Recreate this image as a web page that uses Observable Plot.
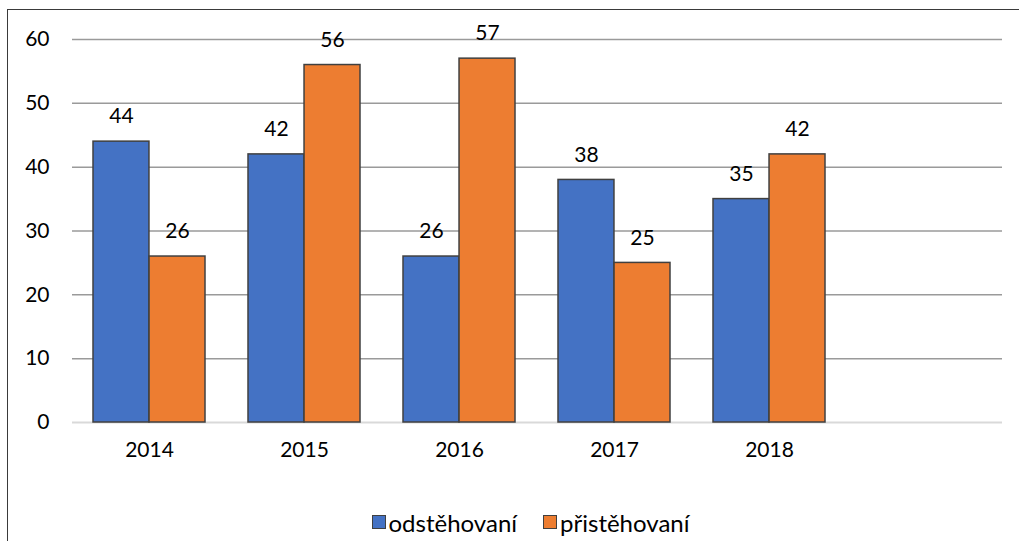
<!DOCTYPE html>
<html>
<head>
<meta charset="utf-8">
<script src="https://cdn.jsdelivr.net/npm/d3@7"></script>
<script src="https://cdn.jsdelivr.net/npm/@observablehq/plot@0.6"></script>
<style>
  html, body { margin: 0; padding: 0; background: #fff; }
  #wrap { position: relative; width: 1019px; height: 541px; overflow: hidden; font-family: Lato, "Open Sans", sans-serif; }
  #border { position: absolute; left: 7px; top: 9px; width: 1100px; height: 600px; border-left: 1.5px solid #3a3a3a; border-top: 1.5px solid #3a3a3a; }
  #chart { position: absolute; left: 0; top: 0; }
  #legend { position: absolute; left: 0; top: 504px; width: 1019px; height: 36px; display: flex; justify-content: center; align-items: center; font-size: 24px; color: #000; padding-left: 42px; box-sizing: border-box; }
  .item { display: flex; align-items: center; margin: 0 13px; }
  .sw { width: 12px; height: 12px; border: 1.5px solid #404040; margin-right: 3px; }
</style>
</head>
<body>
<div id="wrap">
  <div id="border"></div>
  <div id="chart"></div>
  <div id="legend"></div>
</div>
<script>
// Data
const years = ["2014", "2015", "2016", "2017", "2018", ""];
const seriesNames = ["odstěhovaní", "přistěhovaní"];
const odstehovani = [44, 42, 26, 38, 35];
const pristehovani = [26, 56, 57, 25, 42];
const yTicks = [0, 10, 20, 30, 40, 50, 60];
const colors = ["#4472C4", "#ED7D31"];

const rowsA = odstehovani.map((v, i) => ({year: years[i], value: v}));
const rowsB = pristehovani.map((v, i) => ({year: years[i], value: v}));

const W = 1019, H = 505;
const mL = 72, mR = 17, mT = 39, mB = 83;
const padInner = 0.277;
const step = (W - mL - mR) / years.length;
const half = step * (1 - padInner) / 2;

const chart = Plot.plot({
  width: W,
  height: H,
  marginLeft: mL,
  marginRight: mR,
  marginTop: mT,
  marginBottom: mB,
  style: {fontFamily: "Lato, 'Open Sans', sans-serif", fontSize: "21px", color: "#000", background: "transparent"},
  x: {domain: years, paddingInner: padInner, paddingOuter: padInner / 2, label: null, tickSize: 0, tickPadding: 20},
  y: {domain: [0, 60], ticks: yTicks, label: null, tickSize: 0, tickPadding: 23},
  marks: [
    Plot.ruleY(yTicks.filter(d => d > 0), {stroke: "#9a9a9a", strokeWidth: 1.5}),
    Plot.ruleY([0], {stroke: "#d9d9d9", strokeWidth: 2}),
    Plot.barY(rowsA, {x: "year", y: "value", fill: colors[0], stroke: "#404040", strokeWidth: 1.5, insetRight: half}),
    Plot.barY(rowsB, {x: "year", y: "value", fill: colors[1], stroke: "#404040", strokeWidth: 1.5, insetLeft: half}),
    Plot.text(rowsA, {x: "year", y: "value", text: d => String(d.value), dx: -half / 2, dy: -25, fill: "#000", fontSize: 21}),
    Plot.text(rowsB, {x: "year", y: "value", text: d => String(d.value), dx: half / 2, dy: -25, fill: "#000", fontSize: 21})
  ]
});
document.getElementById("chart").appendChild(chart);

const legend = document.getElementById("legend");
seriesNames.forEach((name, i) => {
  const item = document.createElement("div");
  item.className = "item";
  const sw = document.createElement("div");
  sw.className = "sw";
  sw.style.background = colors[i];
  const label = document.createElement("span");
  label.textContent = name;
  item.appendChild(sw);
  item.appendChild(label);
  legend.appendChild(item);
});
</script>
</body>
</html>
